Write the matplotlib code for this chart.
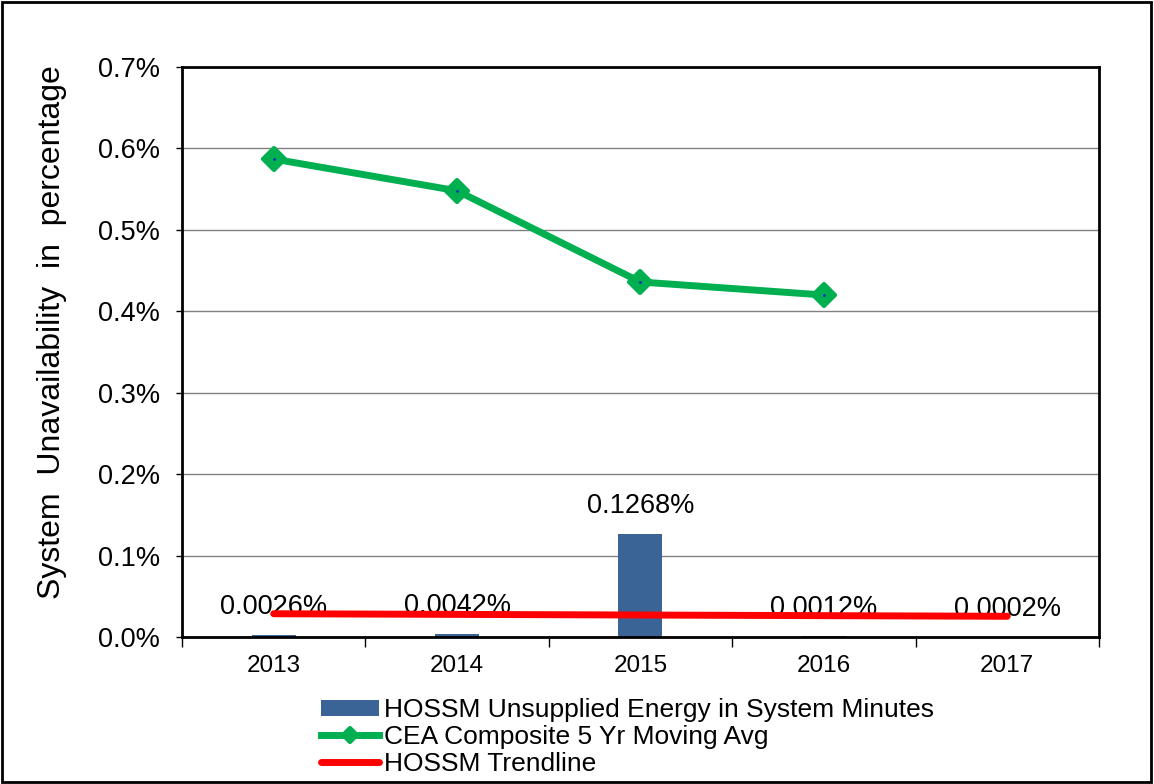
import numpy as np
import matplotlib
matplotlib.use("Agg")
import matplotlib.pyplot as plt
from matplotlib.patches import Rectangle
from matplotlib.markers import MarkerStyle

plt.rcParams['font.family'] = ['Liberation Sans', 'DejaVu Sans']

years = ["2013", "2014", "2015", "2016", "2017"]
hossm_unsupplied = [0.0026, 0.0042, 0.1268, 0.0012, 0.0002]   # percent
cea_moving_avg = [0.587, 0.548, 0.436, 0.420]                 # percent, 2013-2016
bar_labels = ["0.0026%", "0.0042%", "0.1268%", "0.0012%", "0.0002%"]
y_ticks = [0.0, 0.1, 0.2, 0.3, 0.4, 0.5, 0.6, 0.7]

bar_color = "#3A6496"
green = "#00B050"
red = "#FF0000"

fig = plt.figure(figsize=(11.54, 7.84), dpi=100)
ax = fig.add_axes([0.1577, 0.1875, 0.9523 - 0.1577, 0.9145 - 0.1875])

x = np.arange(len(years))
bars = ax.bar(x, hossm_unsupplied, width=0.24, color=bar_color, zorder=2,
              label="HOSSM Unsupplied Energy in System Minutes")

xc = np.arange(len(cea_moving_avg))
diamond = MarkerStyle("D", joinstyle="round")
cea_line, = ax.plot(xc, cea_moving_avg, color=green, lw=5, marker=diamond,
                    markersize=11.5, markeredgewidth=3,
                    markerfacecolor=green, markeredgecolor=green, zorder=4,
                    label="CEA Composite 5 Yr Moving Avg")
ax.plot(xc, cea_moving_avg, ls="none", marker=".", markersize=2,
        color="#1030C0", zorder=5)

# Linear trendline through the unsupplied-energy series
slope, intercept = np.polyfit(x, hossm_unsupplied, 1)
trend, = ax.plot(x, slope * x + intercept, color=red, lw=5, zorder=3,
                 solid_capstyle="round", label="HOSSM Trendline")

for xi, v, lab in zip(x, hossm_unsupplied, bar_labels):
    ax.annotate(lab, (xi, v), xytext=(0, 20), textcoords="offset points",
                ha="center", va="center", fontsize=19.5, zorder=2)

ax.set_xlim(-0.5, len(years) - 0.5)
ax.set_ylim(0, 0.7)
ax.set_yticks(y_ticks)
ax.set_yticklabels([f"{t:.1f}%" for t in y_ticks], fontsize=19.5)
ax.yaxis.grid(True, color="#808080", lw=1, zorder=0)
ax.set_axisbelow(True)

ax.set_xticks(x)
ax.set_xticklabels(years, fontsize=17.5)
ax.set_xticks(np.arange(len(years) + 1) - 0.5, minor=True)
ax.tick_params(axis="x", which="major", length=0, pad=13)
ax.tick_params(axis="x", which="minor", length=7, width=1, direction="out")
ax.tick_params(axis="y", length=4.3, width=1, direction="out", pad=11.5)

for s in ax.spines.values():
    s.set_linewidth(2)
    s.set_color("black")

fig.text(0.045, 0.576, "System  Unavailability  in  percentage",
         rotation=90, ha="center", va="center", fontsize=23)

fig.legend([bars, cea_line, trend],
           ["HOSSM Unsupplied Energy in System Minutes",
            "CEA Composite 5 Yr Moving Avg",
            "HOSSM Trendline"],
           loc="center", bbox_to_anchor=(0.544, 0.06),
           frameon=False, fontsize=19, handlelength=2.2, handleheight=0.55,
           handletextpad=0.2, labelspacing=0.1, borderpad=0, markerscale=0.6)

fig.patches.append(Rectangle((0.0015, 0.002), 0.996, 0.995, transform=fig.transFigure,
                             fill=False, edgecolor="black", lw=2))

fig.savefig("out.png", dpi=100)
